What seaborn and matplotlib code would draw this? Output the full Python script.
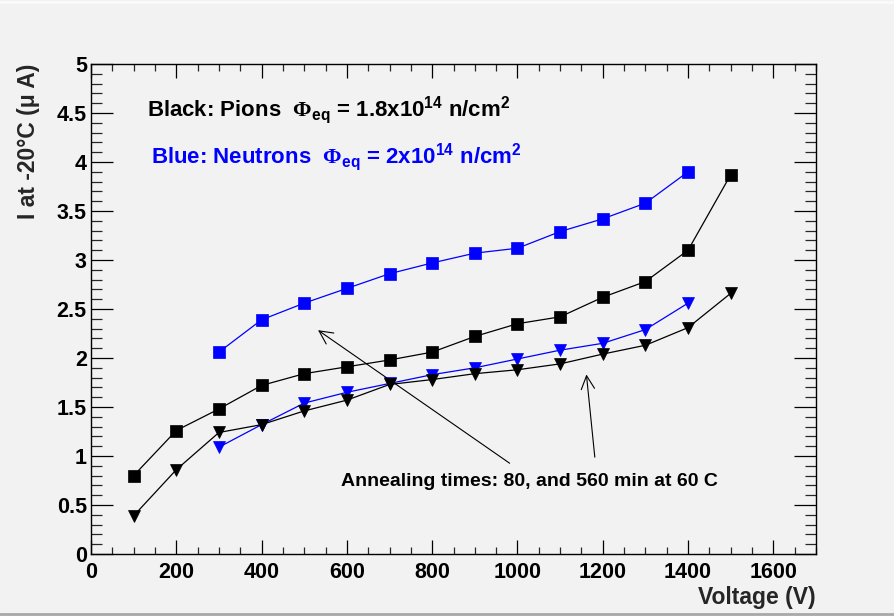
import matplotlib
matplotlib.use("Agg")
import matplotlib.pyplot as plt
from matplotlib.lines import Line2D
from matplotlib.ticker import MultipleLocator
import numpy as np
import pandas as pd
import seaborn as sns

# Leakage current at -20 C versus bias voltage
voltage_pions = [100, 200, 300, 400, 500, 600, 700, 800, 900, 1000, 1100, 1200, 1300, 1400, 1500]
pions_80min = [0.80, 1.26, 1.48, 1.72, 1.84, 1.91, 1.98, 2.06, 2.22, 2.35, 2.42, 2.62, 2.78, 3.10, 3.87]
pions_560min = [0.39, 0.86, 1.24, 1.32, 1.46, 1.57, 1.73, 1.78, 1.84, 1.88, 1.94, 2.04, 2.13, 2.31, 2.66]

voltage_neutrons = [300, 400, 500, 600, 700, 800, 900, 1000, 1100, 1200, 1300, 1400]
neutrons_80min = [2.06, 2.39, 2.56, 2.71, 2.86, 2.97, 3.07, 3.12, 3.29, 3.42, 3.58, 3.90]
neutrons_560min = [1.09, 1.32, 1.54, 1.65, 1.74, 1.83, 1.90, 1.99, 2.08, 2.15, 2.29, 2.56]

x_ticks = [0, 200, 400, 600, 800, 1000, 1200, 1400, 1600]
y_ticks = [0, 0.5, 1, 1.5, 2, 2.5, 3, 3.5, 4, 4.5, 5]
y_tick_labels = ["0", "0.5", "1", "1.5", "2", "2.5", "3", "3.5", "4", "4.5", "5"]

BG = "#f2f2f2"
sns.set_theme(style="ticks")
plt.rcParams["font.family"] = ["Liberation Sans", "DejaVu Sans"]
plt.rcParams["font.weight"] = "bold"
plt.rcParams["mathtext.fontset"] = "custom"
plt.rcParams["mathtext.rm"] = "Liberation Serif"
plt.rcParams["mathtext.bf"] = "Liberation Sans:bold"
plt.rcParams["mathtext.it"] = "Liberation Sans:bold"
plt.rcParams["mathtext.sf"] = "Liberation Sans:bold"

fig = plt.figure(figsize=(8.94, 6.16), dpi=100, facecolor=BG)
ax = fig.add_axes([91 / 894, 1 - 554 / 616, (816 - 91) / 894, (554 - 64) / 616])
ax.set_facecolor(BG)

series = [
    (voltage_neutrons, neutrons_80min, "s", "#0000ff", 8.5),
    (voltage_pions, pions_80min, "s", "black", 8.5),
    (voltage_neutrons, neutrons_560min, "v", "#0000ff", 9),
    (voltage_pions, pions_560min, "v", "black", 9),
]
for xs, ys, mk, col, ms in series:
    df = pd.DataFrame({"V": xs, "I": ys})
    sns.lineplot(data=df, x="V", y="I", ax=ax, color=col, lw=0.9,
                 marker=mk, markersize=ms, markeredgecolor=col,
                 markeredgewidth=0.5, legend=False)

ax.set_xlim(0, 1700)
ax.set_ylim(0, 5)
ax.set_xticks(x_ticks)
ax.set_xticklabels([str(t) for t in x_ticks])
ax.set_yticks(y_ticks)
ax.set_yticklabels(y_tick_labels)
ax.xaxis.set_minor_locator(MultipleLocator(50))
ax.yaxis.set_minor_locator(MultipleLocator(0.1))
ax.tick_params(axis="x", which="major", direction="in", length=10, width=0.9,
               top=True, labelsize=15.5, pad=6, colors="black")
ax.tick_params(axis="x", which="minor", direction="in", length=5, width=0.9, top=True)
ax.tick_params(axis="y", which="major", direction="in", length=16, width=0.9,
               right=True, labelsize=15.5, pad=3, colors="black")
ax.tick_params(axis="y", which="minor", direction="in", length=8, width=0.9, right=True)
for lab in ax.get_xticklabels() + ax.get_yticklabels():
    lab.set_fontweight("bold")
for sp in ax.spines.values():
    sp.set_linewidth(1.0)
    sp.set_color("black")

ax.set_xlabel("Voltage (V)", fontsize=16.5, fontweight="bold", loc="right", labelpad=2)
ax.set_ylabel("I at -20\u00b0C (\u03bc A)", fontsize=16.5, fontweight="bold", loc="top", labelpad=12)

ax.text(132, 4.53, r"Black: Pions  $\mathrm{\Phi}_{\mathbf{eq}}$ = 1.8x10$^{\mathbf{14}}$ n/cm$^{\mathbf{2}}$",
        fontsize=16, fontweight="bold", color="black", va="center", ha="left")
ax.text(140, 4.05, r"Blue: Neutrons  $\mathrm{\Phi}_{\mathbf{eq}}$ = 2x10$^{\mathbf{14}}$ n/cm$^{\mathbf{2}}$",
        fontsize=16, fontweight="bold", color="#0000ff", va="center", ha="left")

ax.text(586, 0.735, "Annealing times: 80, and 560 min at 60 C", fontsize=14,
        fontweight="bold", color="black", va="center", ha="left")
arrow = dict(arrowstyle="->", color="black", lw=0.8, mutation_scale=24)
ax.annotate("", xy=(527, 2.30), xytext=(987, 0.91), arrowprops=arrow)
ax.annotate("", xy=(1161, 1.86), xytext=(1182, 0.96), arrowprops=arrow)

# canvas bevel edges
fig.add_artist(Line2D([0, 1], [1 - 613.5 / 616] * 2, transform=fig.transFigure,
                      color="#a8a8a8", lw=2))
fig.add_artist(Line2D([0, 1], [1 - 1.5 / 616] * 2, transform=fig.transFigure,
                      color="#fafafa", lw=2))

fig.savefig("out.png", dpi=100, facecolor=BG)
